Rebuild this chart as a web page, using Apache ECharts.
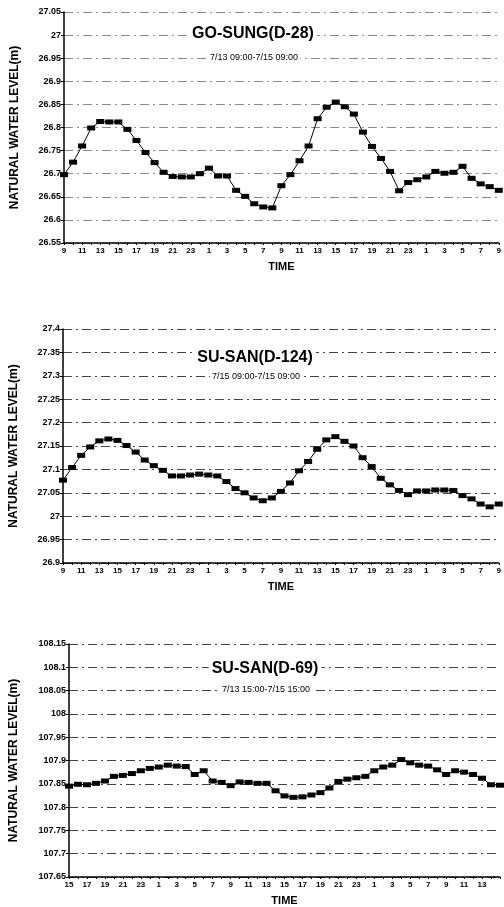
<!DOCTYPE html>
<html>
<head>
<meta charset="utf-8">
<script src="https://cdn.jsdelivr.net/npm/echarts@6/dist/echarts.min.js"></script>
<style>
  html, body { margin: 0; padding: 0; background: #fff; }
  #chart { width: 504px; height: 907px; }
</style>
</head>
<body>
<div id="chart"></div>
<script>
// hourly categories for each panel
const hours09 = ['9','10','11','12','13','14','15','16','17','18','19','20','21','22','23','0',
  '1','2','3','4','5','6','7','8','9','10','11','12','13','14','15','16','17','18','19','20',
  '21','22','23','0','1','2','3','4','5','6','7','8','9']
const hours15 = ['15','16','17','18','19','20','21','22','23','0','1','2','3','4','5','6','7','8',
  '9','10','11','12','13','14','15','16','17','18','19','20','21','22','23','0','1','2','3','4',
  '5','6','7','8','9','10','11','12','13','14','15']

// GO-SUNG (D-28)
const goSung = [26.698, 26.725, 26.760, 26.799, 26.813, 26.812, 26.812, 26.796, 26.772, 26.746,
  26.724, 26.703, 26.694, 26.693, 26.693, 26.700, 26.712, 26.695, 26.695, 26.664, 26.651,
  26.635, 26.628, 26.626, 26.674, 26.698, 26.728, 26.760, 26.819, 26.844, 26.855, 26.845,
  26.829, 26.790, 26.759, 26.733, 26.705, 26.663, 26.681, 26.687, 26.693, 26.705, 26.701,
  26.703, 26.716, 26.690, 26.678, 26.672, 26.664]

// SU-SAN (D-124)
const suSan124 = [27.077, 27.104, 27.130, 27.148, 27.161, 27.165, 27.162, 27.151, 27.137, 27.120,
  27.108, 27.098, 27.086, 27.086, 27.088, 27.090, 27.088, 27.086, 27.074, 27.059, 27.050,
  27.039, 27.033, 27.039, 27.053, 27.071, 27.097, 27.117, 27.143, 27.163, 27.170, 27.160,
  27.150, 27.125, 27.106, 27.081, 27.067, 27.055, 27.046, 27.054, 27.054, 27.056, 27.056,
  27.055, 27.044, 27.037, 27.026, 27.020, 27.026]

// SU-SAN (D-69)
const suSan69 = [107.845, 107.849, 107.848, 107.851, 107.856, 107.866, 107.868, 107.872, 107.878,
  107.883, 107.886, 107.890, 107.888, 107.887, 107.870, 107.878, 107.856, 107.853, 107.846,
  107.854, 107.853, 107.851, 107.851, 107.835, 107.824, 107.821, 107.822, 107.826, 107.831,
  107.841, 107.855, 107.860, 107.863, 107.866, 107.878, 107.886, 107.890, 107.902, 107.895,
  107.890, 107.888, 107.880, 107.870, 107.878, 107.875, 107.870, 107.862, 107.848, 107.847]

const titles = ['GO-SUNG(D-28)', 'SU-SAN(D-124)', 'SU-SAN(D-69)']
const subTitles = ['7/13 09:00-7/15 09:00', '7/15 09:00-7/15 09:00', '7/13 15:00-7/15 15:00']
const yRanges = [[26.55, 27.05], [26.9, 27.4], [107.65, 108.15]]

const FONT = 'Liberation Sans'

const grids = [
  { left: 64, right: 4, top: 12, height: 231 },
  { left: 62, right: 4, top: 329, height: 234 },
  { left: 68, right: 4, top: 644, height: 234 },
]

const titleX = [250, 252, 262]
const titleY = [26, 350, 661]
const subY = [53, 372, 685]
const yNameGap = [43, 43, 49]

const chart = echarts.init(document.getElementById('chart'))

const xAxes = [hours09, hours09, hours15].map((cats, i) => ({
  type: 'category',
  gridIndex: i,
  data: cats,
  boundaryGap: false,
  name: 'TIME',
  nameLocation: 'middle',
  nameGap: 18,
  nameTextStyle: { fontFamily: FONT, fontWeight: 'bold', fontSize: 11, color: '#000' },
  axisLine: { lineStyle: { color: '#000', width: 1.5 } },
  axisTick: { show: true, interval: 0, length: 2, lineStyle: { color: '#000' } },
  axisLabel: {
    interval: (idx) => idx % 2 === 0 && !(i === 2 && idx === cats.length - 1),
    margin: 4,
    fontFamily: FONT,
    fontWeight: 'bold',
    fontSize: 8,
    color: '#000',
  },
  splitLine: { show: false },
}))

const yAxes = yRanges.map((r, i) => ({
  type: 'value',
  gridIndex: i,
  min: r[0],
  max: r[1],
  interval: 0.05,
  name: 'NATURAL WATER LEVEL(m)',
  nameLocation: 'middle',
  nameRotate: 90,
  nameGap: yNameGap[i],
  nameTextStyle: { fontFamily: FONT, fontWeight: 'bold', fontSize: 12, color: '#000' },
  axisLine: { show: true, lineStyle: { color: '#000', width: 1.5 } },
  axisTick: { show: true, length: 3, lineStyle: { color: '#000' } },
  axisLabel: {
    margin: 3,
    fontFamily: FONT,
    fontWeight: 'bold',
    fontSize: 9,
    color: '#000',
    formatter: (v) => String(+v.toFixed(2)),
  },
  splitLine: {
    show: true,
    lineStyle: { color: i === 0 ? '#8a8a8a' : '#444', width: 1, type: [9, 4, 2, 4] },
  },
}))

const seriesData = [goSung, suSan124, suSan69]

const option = {
  backgroundColor: '#fff',
  animation: false,
  title: titles.map((t, i) => ({
    text: t,
    left: titleX[i],
    top: titleY[i],
    textAlign: 'center',
    backgroundColor: '#fff',
    padding: [0, 3],
    textStyle: { fontFamily: FONT, fontWeight: 'bold', fontSize: 16, color: '#000' },
  })).concat(subTitles.map((s, i) => ({
    text: s,
    left: titleX[i] + 2,
    top: subY[i],
    textAlign: 'center',
    backgroundColor: '#fff',
    padding: [0, 2],
    textStyle: { fontFamily: FONT, fontWeight: 'normal', fontSize: 9, color: '#000' },
  }))),
  grid: grids,
  xAxis: xAxes,
  yAxis: yAxes,
  series: seriesData.map((d, i) => ({
    type: 'line',
    xAxisIndex: i,
    yAxisIndex: i,
    data: d,
    symbol: 'rect',
    symbolSize: [8, 5],
    showAllSymbol: true,
    itemStyle: { color: '#000' },
    lineStyle: { color: '#000', width: 1 },
  })),
}

chart.setOption(option)
</script>
</body>
</html>
